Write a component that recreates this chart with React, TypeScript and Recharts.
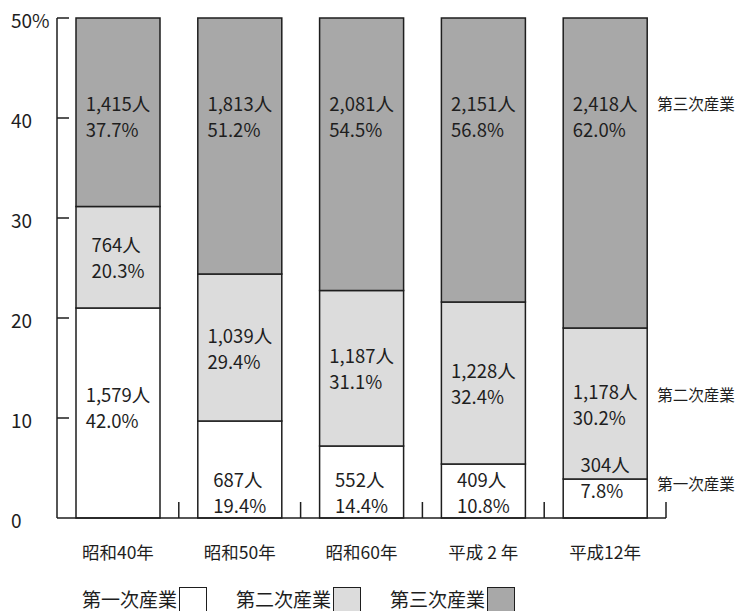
import React from "react";
import { BarChart, Bar, XAxis, YAxis, Legend, LabelList } from "recharts";

const years = ["昭和40年", "昭和50年", "昭和60年", "平成 2 年", "平成12年"];
const primaryPct = [42.0, 19.4, 14.4, 10.8, 7.8];
const secondaryPct = [20.3, 29.4, 31.1, 32.4, 30.2];
const tertiaryPct = [37.7, 51.2, 54.5, 56.8, 62.0];
const primaryCount = ["1,579", "687", "552", "409", "304"];
const secondaryCount = ["764", "1,039", "1,187", "1,228", "1,178"];
const tertiaryCount = ["1,415", "1,813", "2,081", "2,151", "2,418"];
const seriesNames = ["第一次産業", "第二次産業", "第三次産業"];
const yTicks = [0, 20, 40, 60, 80, 100];
const yTickLabels = ["0", "10", "20", "30", "40", "50%"];

const rows = years.map((year, i) => ({
  year,
  p1: primaryPct[i],
  p2: secondaryPct[i],
  p3: tertiaryPct[i],
}));

const W = 736;
const H = 607;
const AXIS_X = 49;
const RIGHT = 78;
const BAND = (W - AXIS_X - RIGHT) / years.length;
const INK = "#1e1e1e";
const FILLS = ["#ffffff", "#dcdcdc", "#a8a8a8"];
const NUM_FONT = '"Noto Sans CJK JP", sans-serif';
const CJK_FONT = '"Noto Sans CJK JP", sans-serif';

let ctx: CanvasRenderingContext2D | null = null;
function textWidth(s: string, size: number) {
  if (!ctx) ctx = document.createElement("canvas").getContext("2d");
  if (!ctx) return s.length * size * 0.5;
  ctx.font = `${size}px ${NUM_FONT}`;
  return ctx.measureText(s).width;
}

// kind: 0 = 第一次, 1 = 第二次, 2 = 第三次
const makeLabel = (kind: number, counts: string[], pcts: number[]) => (props: any) => {
  const x = Number(props.x);
  const y = Number(props.y);
  const w = Number(props.width);
  const h = Number(props.height);
  const i = props.index;
  const top = `${counts[i]}人`;
  const bottom = `${pcts[i].toFixed(1)}%`;
  let c1: number;
  if (kind === 2) c1 = y + 85;
  else if (kind === 1) c1 = y + h / 2 - 13;
  else if (h > 120) c1 = y + h / 2 - 19;
  else if (h > 45) c1 = y + h - 39;
  else c1 = y - 15;
  const fs = 18.5;
  const bw = Math.max(textWidth(top, fs), textWidth(bottom, fs));
  const lx = x + w / 2 - bw / 2;
  let nameY = c1;
  if (kind === 1) nameY = c1 + 3;
  if (kind === 0) nameY = y + 4;
  return (
    <g>
      <text x={lx} y={c1} dominantBaseline="central" fontSize={fs} fontFamily={NUM_FONT} fill={INK}>
        {top}
      </text>
      <text x={lx} y={c1 + 26} dominantBaseline="central" fontSize={fs} fontFamily={NUM_FONT} fill={INK}>
        {bottom}
      </text>
      {i === years.length - 1 && (
        <text x={x + w + 10} y={nameY} dominantBaseline="central" fontSize={15.5} fontFamily={CJK_FONT} fill={INK}>
          {seriesNames[kind]}
        </text>
      )}
    </g>
  );
};

const YTick = (props: any) => {
  const { y, payload } = props;
  const label = yTickLabels[yTicks.indexOf(payload.value)];
  return (
    <g>
      <text x={3} y={y + 1} dominantBaseline="central" fontSize={19} fontFamily={NUM_FONT} fill={INK}>
        {label}
      </text>
      {payload.value !== 0 && (
        <line x1={AXIS_X} x2={AXIS_X + 12} y1={y} y2={y} stroke={INK} strokeWidth={1.5} />
      )}
    </g>
  );
};

const XTick = (props: any) => {
  const { x, y, payload } = props;
  return (
    <g>
      <text x={x} y={y + 33} textAnchor="middle" dominantBaseline="central" fontSize={17.5} fontFamily={NUM_FONT} fill={INK}>
        {payload.value}
      </text>
      <line x1={x + BAND / 2} x2={x + BAND / 2} y1={y} y2={y - 16} stroke={INK} strokeWidth={1.5} />
    </g>
  );
};

const renderLegend = () => (
  <div style={{ display: "flex", alignItems: "flex-start", paddingLeft: 74, height: 48, paddingTop: 26 }}>
    {seriesNames.map((name, i) => (
      <div key={name} style={{ display: "flex", alignItems: "flex-start", marginRight: i < 2 ? 29 : 0 }}>
        <span style={{ fontFamily: CJK_FONT, fontSize: 19, lineHeight: "20px", color: INK }}>{name}</span>
        <span
          style={{
            display: "inline-block",
            width: 28,
            height: 30,
            marginLeft: 2,
            marginTop: -2,
            background: FILLS[i],
            border: `1.5px solid ${INK}`,
            boxSizing: "border-box",
          }}
        />
      </div>
    ))}
  </div>
);

export default function App() {
  return (
    <div style={{ width: W, height: H, background: "#fff", marginTop: -4 }}>
      <BarChart width={W} height={H} data={rows} margin={{ top: 14, right: RIGHT, left: 0, bottom: 0 }} barSize={84}>
        <XAxis
          dataKey="year"
          height={45}
          interval={0}
          axisLine={{ stroke: INK, strokeWidth: 1.5 }}
          tickLine={false}
          tickSize={0}
          tickMargin={0}
          tick={<XTick />}
        />
        <YAxis
          width={AXIS_X}
          domain={[0, 100]}
          ticks={yTicks}
          interval={0}
          axisLine={{ stroke: INK, strokeWidth: 1.5 }}
          tickLine={false}
          tick={<YTick />}
        />
        <Legend verticalAlign="bottom" height={48} content={renderLegend} />
        <Bar dataKey="p1" name={seriesNames[0]} stackId="a" fill={FILLS[0]} stroke={INK} strokeWidth={1.5} isAnimationActive={false}>
          <LabelList content={makeLabel(0, primaryCount, primaryPct)} />
        </Bar>
        <Bar dataKey="p2" name={seriesNames[1]} stackId="a" fill={FILLS[1]} stroke={INK} strokeWidth={1.5} isAnimationActive={false}>
          <LabelList content={makeLabel(1, secondaryCount, secondaryPct)} />
        </Bar>
        <Bar dataKey="p3" name={seriesNames[2]} stackId="a" fill={FILLS[2]} stroke={INK} strokeWidth={1.5} isAnimationActive={false}>
          <LabelList content={makeLabel(2, tertiaryCount, tertiaryPct)} />
        </Bar>
      </BarChart>
    </div>
  );
}
